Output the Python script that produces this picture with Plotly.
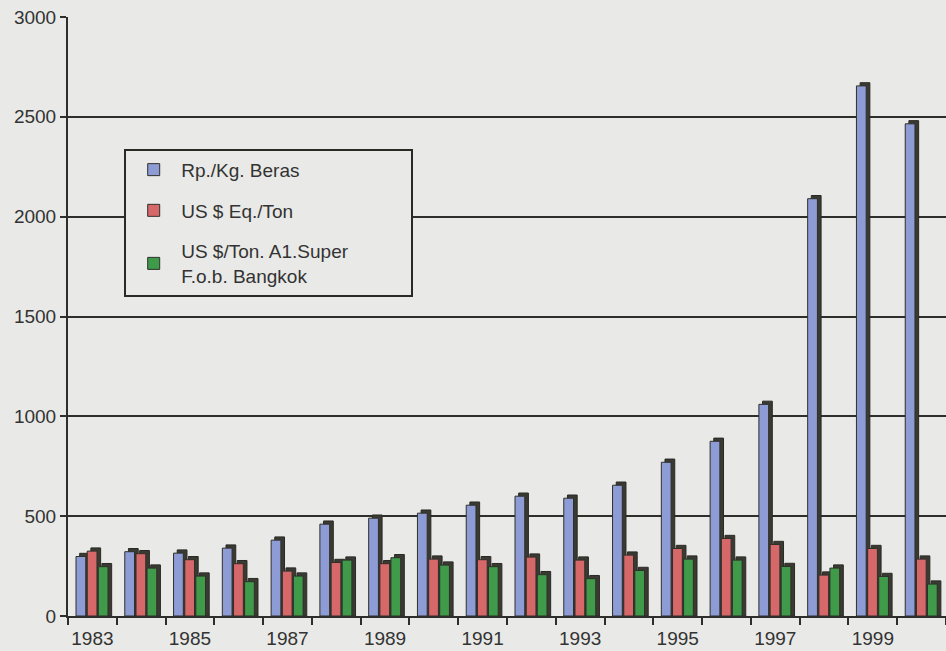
import plotly.graph_objects as go

years = list(range(1983, 2001))
rp_kg_beras = [298, 322, 315, 340, 380, 460, 490, 515, 555, 600, 590, 655, 770, 875, 1060, 2090, 2655, 2465]
usd_eq_ton = [325, 312, 282, 262, 225, 268, 262, 285, 282, 295, 280, 305, 338, 388, 358, 205, 338, 285]
usd_fob_bangkok = [247, 240, 200, 172, 200, 280, 292, 255, 247, 207, 187, 228, 285, 280, 248, 240, 198, 160]
tick_years = [1983, 1985, 1987, 1989, 1991, 1993, 1995, 1997, 1999]

pad = "&nbsp;" * 11
series = [
    ("Rp./Kg. Beras", rp_kg_beras, "#8e9cd6", -0.336),
    ("US $ Eq./Ton", usd_eq_ton, "#d7686a", -0.106),
    ("US $/Ton. A1.Super" + pad + "<br>F.o.b. Bangkok", usd_fob_bangkok, "#3f9a4a", 0.12),
]
face_w = 0.2
depth_x = 0.075
depth_y = 16

bg = "#e9e9e7"
dark = "#3a3a33"

fig = go.Figure()
for i, (name, vals, color, off) in enumerate(series):
    fig.add_trace(go.Bar(
        x=years, y=[v + depth_y for v in vals], offset=off + depth_x, width=face_w,
        marker=dict(color=dark, line=dict(color="#2a2a25", width=1)),
        showlegend=False, hoverinfo="skip"))
    fig.add_trace(go.Bar(
        x=years, y=vals, offset=off, width=face_w, name=name, legendgroup=f"g{i}",
        marker=dict(color=color, line=dict(color="#2f2f2a", width=1))))

fig.update_layout(
    width=946, height=651,
    margin=dict(l=68, r=0, t=17, b=35),
    paper_bgcolor=bg, plot_bgcolor=bg,
    barmode="overlay",
    font=dict(family="Liberation Sans, Arial, sans-serif", size=19, color="#333333"),
    showlegend=True,
    legend=dict(
        x=0.064, y=0.78, xanchor="left", yanchor="top",
        bgcolor=bg, bordercolor="#2a2a25", borderwidth=2,
        font=dict(size=19, color="#333333"),
        tracegroupgap=13, itemwidth=45,
    ),
    xaxis=dict(
        range=[1982.5, 2000.5], tickmode="array", tickvals=tick_years,
        ticktext=[str(y) for y in tick_years], ticks="", showgrid=False,
        showline=True, linecolor="#2e2e2a", linewidth=2, zeroline=False,
        ticklabelstandoff=4,
        minor=dict(tickmode="linear", tick0=1982.5, dtick=1, ticks="outside",
                   ticklen=7, tickwidth=2, tickcolor="#2e2e2a", showgrid=False),
        fixedrange=True,
    ),
    yaxis=dict(
        range=[0, 3000], tickvals=[0, 500, 1000, 1500, 2000, 2500, 3000],
        ticks="outside", ticklen=6, tickwidth=2, tickcolor="#2e2e2a",
        showgrid=True, gridcolor="#2e2e2a", gridwidth=2,
        showline=True, linecolor="#2e2e2a", linewidth=2, zeroline=False,
        fixedrange=True,
    ),
)

fig.write_html("out.html")
